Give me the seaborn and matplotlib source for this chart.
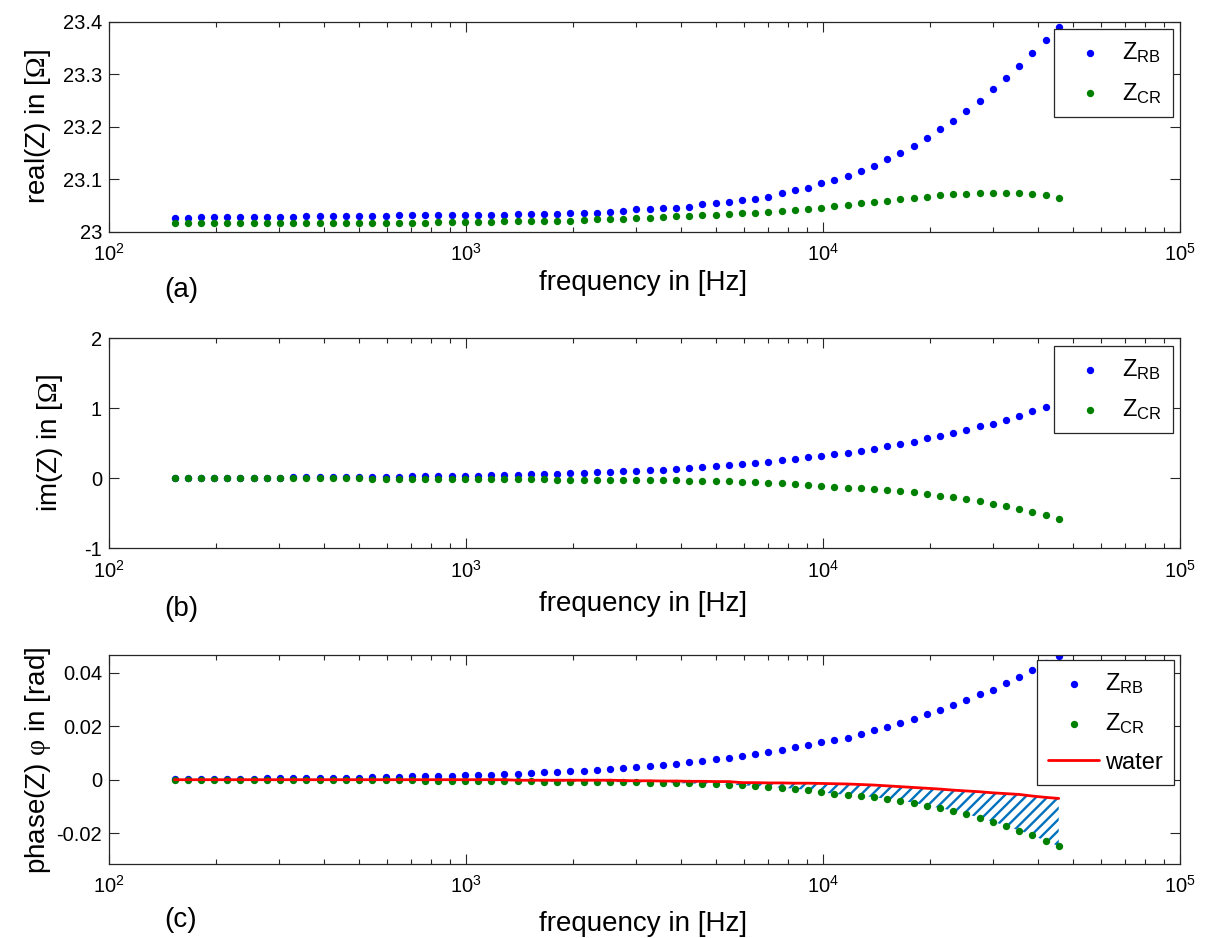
import numpy as np
import matplotlib
matplotlib.use("Agg")
import matplotlib.pyplot as plt
import seaborn as sns
from matplotlib.ticker import (LogLocator, LogFormatterMathtext, FuncFormatter,
                               NullFormatter, FixedLocator)

# ---------------- data ----------------
FREQ = [152.6, 166.1, 180.9, 197.0, 214.5, 233.5, 254.3, 276.9, 301.4, 328.2,
        357.4, 389.1, 423.7, 461.4, 502.3, 547.0, 595.7, 648.5, 706.2, 769.0,
        837.2, 911.7, 992.7, 1081, 1177, 1281, 1395, 1519, 1654, 1801,
        1961, 2135, 2325, 2532, 2757, 3001, 3268, 3559, 3875, 4219,
        4594, 5002, 5447, 5931, 6457, 7031, 7656, 8336, 9077, 9883,
        10760, 11720, 12760, 13890, 15130, 16470, 17930, 19530, 21260, 23150,
        25210, 27450, 29880, 32540, 35430, 38580, 42010, 45740]

REAL_RB = [23.027, 23.026, 23.028, 23.028, 23.028, 23.028, 23.028, 23.028, 23.028, 23.028,
           23.029, 23.029, 23.029, 23.029, 23.029, 23.029, 23.030, 23.031, 23.031, 23.031,
           23.031, 23.031, 23.031, 23.032, 23.032, 23.032, 23.033, 23.033, 23.034, 23.034,
           23.035, 23.035, 23.036, 23.038, 23.040, 23.0425, 23.044, 23.045, 23.046, 23.048,
           23.052, 23.054, 23.056, 23.060, 23.063, 23.067, 23.073, 23.079, 23.084, 23.092,
           23.0985, 23.107, 23.116, 23.126, 23.138, 23.150, 23.163, 23.178, 23.195, 23.211,
           23.229, 23.249, 23.272, 23.293, 23.316, 23.341, 23.365, 23.390]

REAL_CR = [23.016, 23.016, 23.016, 23.016, 23.016, 23.016, 23.016, 23.016, 23.016, 23.016,
           23.017, 23.017, 23.017, 23.017, 23.017, 23.017, 23.017, 23.017, 23.017, 23.017,
           23.018, 23.018, 23.018, 23.018, 23.018, 23.020, 23.020, 23.020, 23.021, 23.021,
           23.021, 23.022, 23.024, 23.025, 23.025, 23.026, 23.027, 23.028, 23.029, 23.030,
           23.031, 23.032, 23.033, 23.035, 23.036, 23.038, 23.040, 23.042, 23.044, 23.046,
           23.049, 23.051, 23.054, 23.057, 23.059, 23.062, 23.064, 23.066, 23.069, 23.071,
           23.072, 23.074, 23.074, 23.074, 23.074, 23.072, 23.069, 23.065]

IM_RB = [0.002, 0.005, 0.005, 0.007, 0.007, 0.009, 0.009, 0.012, 0.012, 0.014,
         0.014, 0.016, 0.016, 0.018, 0.018, 0.021, 0.023, 0.025, 0.028, 0.030,
         0.032, 0.035, 0.037, 0.041, 0.044, 0.048, 0.053, 0.058, 0.062, 0.067,
         0.071, 0.078, 0.085, 0.092, 0.099, 0.108, 0.117, 0.127, 0.138, 0.150,
         0.161, 0.175, 0.189, 0.205, 0.221, 0.240, 0.258, 0.279, 0.300, 0.323,
         0.344, 0.363, 0.398, 0.426, 0.458, 0.488, 0.523, 0.570, 0.605, 0.648,
         0.692, 0.742, 0.784, 0.839, 0.898, 0.957, 1.019, 1.083]

IM_CR = [0.0, 0.0, 0.0, 0.0, 0.0, 0.0, 0.0, 0.0, 0.0, 0.0,
         0.0, 0.0, 0.0, 0.0, -0.001, -0.002, -0.003, -0.004, -0.005, -0.006,
         -0.007, -0.008, -0.009, -0.010, -0.011, -0.012, -0.013, -0.014, -0.015, -0.016,
         -0.017, -0.018, -0.019, -0.020, -0.021, -0.023, -0.025, -0.028, -0.030, -0.032,
         -0.035, -0.039, -0.044, -0.048, -0.055, -0.062, -0.069, -0.078, -0.090, -0.108,
         -0.122, -0.131, -0.138, -0.150, -0.166, -0.180, -0.199, -0.224, -0.245, -0.268,
         -0.296, -0.328, -0.363, -0.398, -0.440, -0.479, -0.529, -0.574]

PHASE_RB = [0.0001, 0.0002, 0.0002, 0.0003, 0.0003, 0.0004, 0.0004, 0.0005, 0.0005, 0.0006,
            0.0006, 0.0007, 0.0007, 0.0008, 0.0008, 0.0009, 0.0010, 0.0011, 0.0012, 0.0013,
            0.0014, 0.0015, 0.0016, 0.0018, 0.0019, 0.0021, 0.0023, 0.0025, 0.0027, 0.0029,
            0.0031, 0.0034, 0.0037, 0.0040, 0.0043, 0.0047, 0.0051, 0.0055, 0.0060, 0.0065,
            0.0070, 0.0076, 0.0082, 0.0089, 0.0096, 0.0104, 0.0112, 0.0121, 0.0130, 0.0140,
            0.0149, 0.0157, 0.0172, 0.0184, 0.0198, 0.0211, 0.0226, 0.0246, 0.0261, 0.0279,
            0.0298, 0.0319, 0.0337, 0.0360, 0.0385, 0.0410, 0.0436, 0.0463]

PHASE_CR = [0.0, 0.0, 0.0, 0.0, 0.0, 0.0, 0.0, 0.0, 0.0, 0.0,
            0.0, 0.0, 0.0, 0.0, 0.0, -0.0001, -0.0001, -0.0002, -0.0002, -0.0003,
            -0.0003, -0.0003, -0.0004, -0.0004, -0.0005, -0.0005, -0.0006, -0.0006, -0.0007, -0.0007,
            -0.0007, -0.0008, -0.0008, -0.0009, -0.0009, -0.0010, -0.0011, -0.0012, -0.0013, -0.0014,
            -0.0015, -0.0017, -0.0019, -0.0021, -0.0024, -0.0027, -0.0030, -0.0034, -0.0039, -0.0047,
            -0.0053, -0.0057, -0.0060, -0.0065, -0.0072, -0.0078, -0.0086, -0.0097, -0.0106, -0.0116,
            -0.0128, -0.0142, -0.0157, -0.0172, -0.0190, -0.0207, -0.0229, -0.0248]

PHASE_WATER = [0.0, 0.0, 0.0, 0.0, 0.0, 0.0, 0.0, 0.0, 0.0, 0.0,
               0.0, 0.0, 0.0, 0.0, 0.0, 0.0, 0.0, 0.0, 0.0, 0.0,
               0.0, 0.0, 0.0, 0.0, 0.0, 0.0, -0.0002, -0.0002, -0.0002, -0.0002,
               -0.0002, -0.0002, -0.0002, -0.0002, -0.0003, -0.0004, -0.0004, -0.0005, -0.0005, -0.0006,
               -0.0006, -0.0007, -0.0007, -0.0011, -0.0011, -0.0012, -0.0012, -0.0013, -0.0013, -0.0014,
               -0.0015, -0.0016, -0.0018, -0.0020, -0.0023, -0.0026, -0.0029, -0.0032, -0.0035, -0.0039,
               -0.0042, -0.0045, -0.0049, -0.0052, -0.0055, -0.0061, -0.0066, -0.0070]

X_TICKS = [1e2, 1e3, 1e4, 1e5]
Y_TICKS_A = [23.0, 23.1, 23.2, 23.3, 23.4]
Y_TICKS_B = [-1, 0, 1, 2]
Y_TICKS_C = [-0.02, 0.0, 0.02, 0.04]

LBL_RB = r"$Z_{RB}$"
LBL_CR = r"$Z_{CR}$"
LBL_W = "water"

# ---------------- style ----------------
sns.set_theme(style="white")
plt.rcParams.update({
    "font.family": ["Liberation Sans", "DejaVu Sans"],
    "mathtext.fontset": "custom",
    "mathtext.rm": "Liberation Serif",
    "mathtext.it": "Liberation Serif:italic",
    "mathtext.default": "regular",
    "hatch.linewidth": 1.7,
    "axes.edgecolor": "#262626",
    "axes.linewidth": 0.9,
    "text.color": "black",
    "axes.labelcolor": "black",
    "xtick.color": "black",
    "ytick.color": "black",
})

W, H = 1205, 938
fig = plt.figure(figsize=(W / 100, H / 100), dpi=100)

def px_axes(left, top, right, bottom):
    return fig.add_axes([left / W, 1 - bottom / H, (right - left) / W, (bottom - top) / H])

axA = px_axes(109, 21.7, 1180, 231.7)
axB = px_axes(109, 338.4, 1180, 548.4)
axC = px_axes(109, 655, 1180, 864)

BLUE = (0, 0, 1)
GREEN = (0, 0.5, 0)
MS = 28

def style_axis(ax, yticks, ylim):
    ax.set_xscale("log")
    ax.set_xlim(1e2, 1e5)
    ax.set_ylim(*ylim)
    ax.xaxis.set_major_locator(FixedLocator(X_TICKS))
    ax.xaxis.set_major_formatter(LogFormatterMathtext())
    ax.xaxis.set_minor_locator(LogLocator(base=10, subs=np.arange(2, 10), numticks=30))
    ax.xaxis.set_minor_formatter(NullFormatter())
    ax.yaxis.set_major_locator(FixedLocator(yticks))
    ax.yaxis.set_major_formatter(FuncFormatter(lambda v, p: f"{v:g}" if abs(v) > 1e-12 else "0"))
    ax.tick_params(which="both", direction="in", top=True, right=True, bottom=True, left=True,
                   color="#262626", width=0.8)
    ax.tick_params(which="major", length=7, labelsize=14.5, labelcolor="black")
    ax.tick_params(which="minor", length=3.6)
    ax.tick_params(axis="x", which="major", pad=8)
    ax.tick_params(axis="y", which="major", pad=5)
    for s in ax.spines.values():
        s.set_visible(True)
        s.set_color("#262626")
        s.set_linewidth(0.9)
    ax.set_xlabel("")
    ax.set_ylabel("")

def make_legend(ax, anchor):
    leg = ax.legend(loc="upper right", bbox_to_anchor=anchor, borderaxespad=0,
                    frameon=True, fancybox=False, framealpha=1, edgecolor="#262626",
                    fontsize=17, handletextpad=0.25, labelspacing=0.65, borderpad=0.47,
                    handlelength=2.16, markerscale=1.0)
    leg.get_frame().set_linewidth(0.9)
    leg.set_zorder(10)
    return leg

# panel (a)
sns.scatterplot(x=FREQ, y=REAL_RB, ax=axA, color=BLUE, s=MS, linewidth=0, label=LBL_RB, zorder=2)
sns.scatterplot(x=FREQ, y=REAL_CR, ax=axA, color=GREEN, s=MS, linewidth=0, label=LBL_CR, zorder=3)
style_axis(axA, Y_TICKS_A, (23.0, 23.4))
make_legend(axA, (0.9932, 0.9638))

# panel (b)
sns.scatterplot(x=FREQ, y=IM_RB, ax=axB, color=BLUE, s=MS, linewidth=0, label=LBL_RB, zorder=2)
sns.scatterplot(x=FREQ, y=IM_CR, ax=axB, color=GREEN, s=MS, linewidth=0, label=LBL_CR, zorder=3)
style_axis(axB, Y_TICKS_B, (-1, 2))
make_legend(axB, (0.9932, 0.9638))

# panel (c)
axC.fill_between(FREQ, PHASE_CR, PHASE_WATER, facecolor="none",
                 edgecolor=(0, 0.447, 0.741), hatch="///", linewidth=0, zorder=1)
sns.scatterplot(x=FREQ, y=PHASE_RB, ax=axC, color=BLUE, s=MS, linewidth=0, label=LBL_RB, zorder=2)
sns.scatterplot(x=FREQ, y=PHASE_CR, ax=axC, color=GREEN, s=MS, linewidth=0, label=LBL_CR, zorder=3)
sns.lineplot(x=FREQ, y=PHASE_WATER, ax=axC, color="red", linewidth=2.0, label=LBL_W,
             errorbar=None, zorder=4)
style_axis(axC, Y_TICKS_C, (-0.0315, 0.0466))
make_legend(axC, (0.9944, 0.976))

# labels
def ftext(x, y, s, **kw):
    fig.text(x / W, 1 - y / H, s, ha="center", va="center", fontsize=20, color="black", **kw)

ftext(643, 283, "frequency in [Hz]")
ftext(643, 604, "frequency in [Hz]")
ftext(643, 924, "frequency in [Hz]")
ftext(181, 290, "(a)")
ftext(181, 609, "(b)")
ftext(181, 920, "(c)")
ftext(38, 127, r"real(Z) in [$\mathrm{\Omega}$]", rotation=90)
ftext(50, 443, r"im(Z) in [$\mathrm{\Omega}$]", rotation=90)
ftext(38, 760, r"phase(Z) $\mathrm{\varphi}$ in [rad]", rotation=90)

fig.savefig("out.png", dpi=100)
